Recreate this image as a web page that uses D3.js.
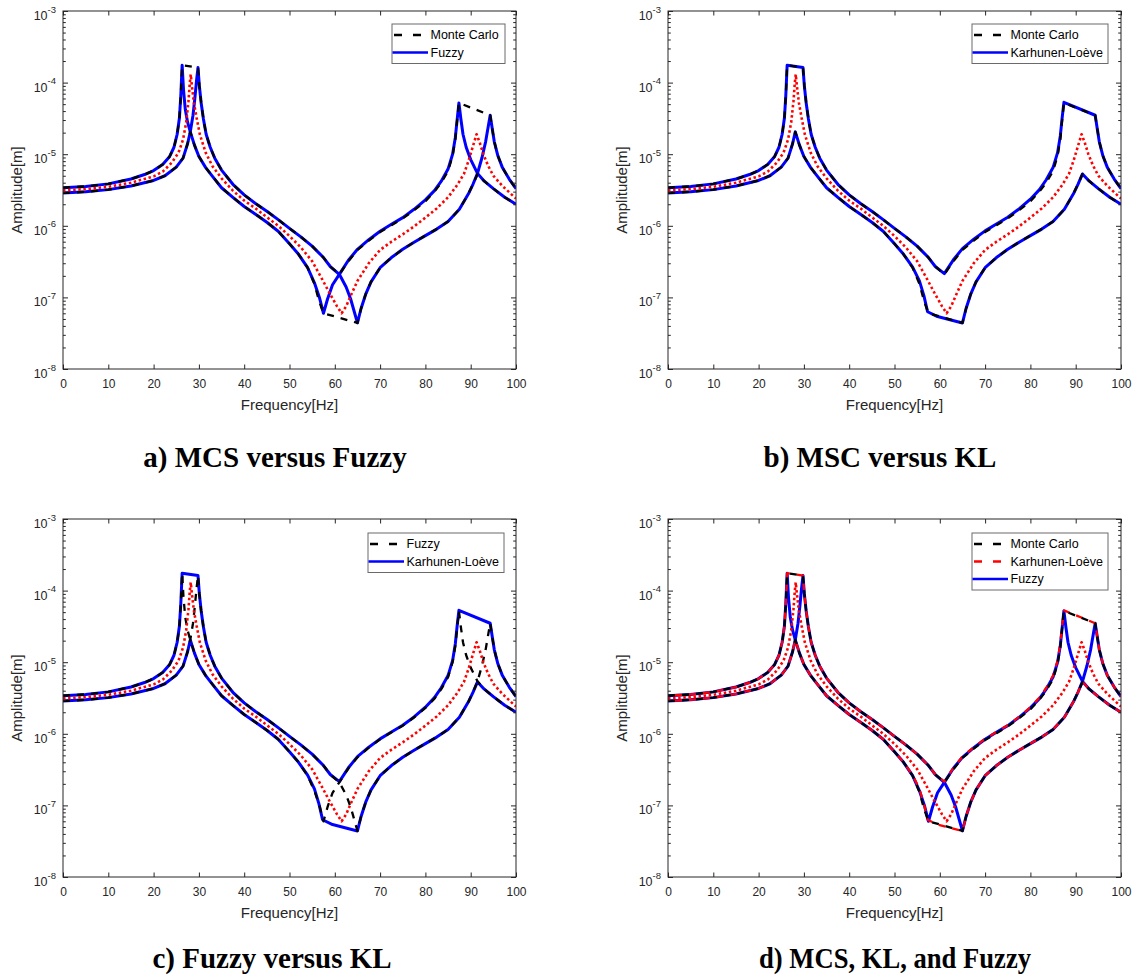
<!DOCTYPE html>
<html><head><meta charset="utf-8">
<script src="https://cdn.jsdelivr.net/npm/d3@7"></script>
<style>body{margin:0;background:#fff}svg{display:block}</style>
</head><body>
<svg id="chart" width="1141" height="977"></svg>
<script>
// ---------------- DATA ----------------
const freqTicks = [0,10,20,30,40,50,60,70,80,90,100];
const ampExponents = [-8,-7,-6,-5,-4,-3];
const ampTicks = ampExponents.map(e => Math.pow(10, e));

// Fuzzy bound FRF with softer parameters (peaks ~26.3 Hz and ~87.4 Hz)  [freq Hz, amplitude m]
const fuzzySoft = [[0,3.41e-6],[5,3.55e-6],[10,3.85e-6],[15,4.5e-6],[18,5.2e-6],[20,5.9e-6],[22,7.2e-6],[23.5,9.2e-6],[24.5,1.25e-5],[25.2,1.9e-5],[25.7,3.2e-5],[26.0,6.5e-5],[26.3,1.75e-4],[26.6,8e-5],[27.0,4.2e-5],[27.5,2.8e-5],[28.1,2.05e-5],[29,1.35e-5],[30,9.3e-6],[31.5,6.5e-6],[33,4.9e-6],[35,3.4e-6],[37.5,2.5e-6],[40,1.86e-6],[42.5,1.45e-6],[45,1.12e-6],[47.5,8.4e-7],[50,5.6e-7],[52,4.0e-7],[54,2.6e-7],[55.5,1.6e-7],[56.6,1.0e-7],[57.5,6e-8],[58.4,9.5e-8],[59.5,1.5e-7],[61,2.1e-7],[63,3.3e-7],[65,4.7e-7],[67.5,6.4e-7],[70,8.4e-7],[72.5,1.05e-6],[75,1.3e-6],[77.5,1.7e-6],[80,2.3e-6],[82,3.1e-6],[83.5,4.2e-6],[85,6.2e-6],[86,1e-5],[86.6,1.7e-5],[87.0,3e-5],[87.4,5.2e-5],[87.8,3.2e-5],[88.3,1.9e-5],[89,1.25e-5],[90,8.4e-6],[91.5,5.4e-6],[93,4.2e-6],[95,3.3e-6],[97.5,2.5e-6],[100,2.0e-6]];

// Fuzzy bound FRF with stiffer parameters (peaks ~29.8 Hz and ~94.3 Hz)
const fuzzyStiff = [[0,2.88e-6],[5,2.98e-6],[10,3.2e-6],[15,3.6e-6],[20,4.3e-6],[22.5,5e-6],[25,6.6e-6],[26.5,8.8e-6],[27.5,1.4e-5],[28.1,2.05e-5],[28.7,3.5e-5],[29.1,6e-5],[29.5,1.1e-4],[29.8,1.62e-4],[30.1,9e-5],[30.5,5.2e-5],[31,3.1e-5],[31.6,1.9e-5],[32.5,1.25e-5],[33.5,8.8e-6],[35,6e-6],[37.5,3.8e-6],[40,2.7e-6],[42.5,2.05e-6],[45,1.6e-6],[47.5,1.22e-6],[50,9.2e-7],[52.5,7e-7],[55,5.2e-7],[57.5,3.6e-7],[59,2.7e-7],[61,2.1e-7],[62.5,1.4e-7],[63.5,9.5e-8],[64.3,6.3e-8],[65,4.4e-8],[65.8,7e-8],[66.8,1.1e-7],[68,1.65e-7],[70,2.6e-7],[72.5,3.6e-7],[75,4.7e-7],[77.5,5.9e-7],[80,7.3e-7],[82.5,9e-7],[85,1.15e-6],[87.5,1.7e-6],[89.5,2.8e-6],[90.5,3.8e-6],[91.5,5.4e-6],[92.5,9e-6],[93.3,1.5e-5],[93.9,2.5e-5],[94.3,3.5e-5],[94.7,2.4e-5],[95.2,1.5e-5],[96,9.5e-6],[97,6.5e-6],[98.5,4.5e-6],[100,3.3e-6]];

// Mean (nominal) response, red dotted
const meanResponse = [[0,3.12e-6],[5,3.25e-6],[10,3.5e-6],[15,4e-6],[20,4.9e-6],[22,5.7e-6],[24,7.6e-6],[25.5,1.05e-5],[26.5,1.6e-5],[27.2,2.8e-5],[27.7,5.5e-5],[28.0,1.0e-4],[28.2,1.3e-4],[28.5,8.5e-5],[28.9,5.2e-5],[29.5,3.2e-5],[30.2,1.9e-5],[31.5,1.05e-5],[33,6.8e-6],[35,4.6e-6],[37.5,3.1e-6],[40,2.25e-6],[42.5,1.75e-6],[45,1.32e-6],[47.5,1e-6],[50,7.2e-7],[52.5,5e-7],[55,3.2e-7],[57,1.9e-7],[59,1.1e-7],[60.5,7.5e-8],[61.5,6e-8],[62.5,7.5e-8],[63.5,1.05e-7],[65,1.7e-7],[67.5,3e-7],[70,4.6e-7],[72.5,6e-7],[75,7.6e-7],[77.5,9.8e-7],[80,1.3e-6],[82.5,1.75e-6],[85,2.5e-6],[87,3.7e-6],[88.5,5.3e-6],[89.5,8e-6],[90.5,1.3e-5],[91.3,1.9e-5],[92,1.45e-5],[92.8,1e-5],[93.8,7e-6],[95,5e-6],[97,3.6e-6],[100,2.4e-6]];

// Monte Carlo envelope
const mcsUpper = [[0,3.41e-6],[5,3.55e-6],[10,3.85e-6],[15,4.5e-6],[18,5.2e-6],[20,5.9e-6],[22,7.2e-6],[23.5,9.2e-6],[24.5,1.25e-5],[25.2,1.9e-5],[25.7,3.2e-5],[26.0,6.5e-5],[26.3,1.75e-4],[29.8,1.62e-4],[30.1,9e-5],[30.5,5.2e-5],[31,3.1e-5],[31.6,1.9e-5],[32.5,1.25e-5],[33.5,8.8e-6],[35,6e-6],[37.5,3.8e-6],[40,2.7e-6],[42.5,2.05e-6],[45,1.6e-6],[47.5,1.22e-6],[50,9.2e-7],[52.5,7e-7],[55,5.2e-7],[57.5,3.6e-7],[59,2.7e-7],[61,2.1e-7],[63,3.2e-7],[65,4.6e-7],[67.5,6.2e-7],[70,8.2e-7],[72.5,1.02e-6],[75,1.27e-6],[77.5,1.65e-6],[80,2.2e-6],[82,3e-6],[83.5,4e-6],[85,5.8e-6],[86,9.5e-6],[86.6,1.6e-5],[87.0,3e-5],[87.4,5.2e-5],[94.3,3.5e-5],[94.7,2.4e-5],[95.2,1.5e-5],[96,9.5e-6],[97,6.5e-6],[98.5,4.5e-6],[100,3.3e-6]];
const mcsLower = [[0,2.88e-6],[5,2.98e-6],[10,3.2e-6],[15,3.6e-6],[20,4.3e-6],[22.5,5e-6],[25,6.6e-6],[26.5,8.8e-6],[27.5,1.4e-5],[28.1,2.05e-5],[29,1.35e-5],[30,9.3e-6],[31.5,6.5e-6],[33,4.9e-6],[35,3.4e-6],[37.5,2.5e-6],[40,1.86e-6],[42.5,1.45e-6],[45,1.12e-6],[47.5,8.4e-7],[50,5.6e-7],[52,4.0e-7],[54,2.6e-7],[55.5,1.55e-7],[56.5,9e-8],[57.5,6e-8],[61,5.2e-8],[65,4.4e-8],[65.8,7e-8],[66.8,1.1e-7],[68,1.65e-7],[70,2.6e-7],[72.5,3.6e-7],[75,4.7e-7],[77.5,5.9e-7],[80,7.3e-7],[82.5,9e-7],[85,1.15e-6],[87.5,1.7e-6],[89.5,2.8e-6],[90.5,3.8e-6],[91.5,5.3e-6],[93,4.2e-6],[95,3.3e-6],[97.5,2.5e-6],[100,2.0e-6]];

// Karhunen-Loeve envelope
const klUpper = [[0,3.41e-6],[5,3.55e-6],[10,3.85e-6],[15,4.5e-6],[18,5.2e-6],[20,5.9e-6],[22,7.2e-6],[23.5,9.2e-6],[24.5,1.25e-5],[25.2,1.9e-5],[25.7,3.2e-5],[26.0,6.5e-5],[26.3,1.75e-4],[29.8,1.62e-4],[30.1,9e-5],[30.5,5.2e-5],[31,3.1e-5],[31.6,1.9e-5],[32.5,1.25e-5],[33.5,8.8e-6],[35,6e-6],[37.5,3.8e-6],[40,2.7e-6],[42.5,2.05e-6],[45,1.6e-6],[47.5,1.22e-6],[50,9.2e-7],[52.5,7e-7],[55,5.2e-7],[57.5,3.6e-7],[59,2.7e-7],[61,2.15e-7],[63,3.35e-7],[65,4.8e-7],[67.5,6.5e-7],[70,8.5e-7],[72.5,1.06e-6],[75,1.32e-6],[77.5,1.72e-6],[80,2.35e-6],[82,3.2e-6],[83.5,4.4e-6],[85,6.5e-6],[86,1.05e-5],[86.6,1.8e-5],[87.0,3.2e-5],[87.4,5.3e-5],[94.3,3.5e-5],[94.7,2.4e-5],[95.2,1.5e-5],[96,9.5e-6],[97,6.5e-6],[98.5,4.5e-6],[100,3.3e-6]];
const klLower = [[0,2.88e-6],[5,2.98e-6],[10,3.2e-6],[15,3.6e-6],[20,4.3e-6],[22.5,5e-6],[25,6.6e-6],[26.5,8.8e-6],[27.5,1.4e-5],[28.1,2.05e-5],[29,1.35e-5],[30,9.3e-6],[31.5,6.5e-6],[33,4.9e-6],[35,3.4e-6],[37.5,2.5e-6],[40,1.86e-6],[42.5,1.45e-6],[45,1.12e-6],[47.5,8.4e-7],[50,5.6e-7],[52,4.0e-7],[54,2.65e-7],[55.5,1.7e-7],[56.5,1.05e-7],[57.3,6.3e-8],[59.5,5.4e-8],[65,4.4e-8],[65.8,7e-8],[66.8,1.1e-7],[68,1.65e-7],[70,2.6e-7],[72.5,3.6e-7],[75,4.7e-7],[77.5,5.9e-7],[80,7.3e-7],[82.5,9e-7],[85,1.15e-6],[87.5,1.7e-6],[89.5,2.8e-6],[90.5,3.8e-6],[91.5,5.3e-6],[93,4.2e-6],[95,3.3e-6],[97.5,2.5e-6],[100,2.0e-6]];

// ---------------- STYLES / LAYOUT ----------------
const STY = {
  blue:   {stroke:'#0000ff', width:3.0, dash:null},
  black:  {stroke:'#000000', width:2.3, dash:'7,7'},
  redDash:{stroke:'#ff0000', width:2.3, dash:'7,7', offset:7},
  dot:    {stroke:'#ff0000', width:2.6, dash:'2.5,2.6'}
};
const W = 453, H = 358;
const panels = [
  {left:63, top:11, caption:'a) MCS versus Fuzzy', capX:275, capY:467, capLen:null,
   layers:[[fuzzySoft,'blue'],[fuzzyStiff,'blue'],[mcsUpper,'black'],[mcsLower,'black'],[meanResponse,'dot']],
   legend:{x:392, y:24, w:113, rows:[['Monte Carlo','black'],['Fuzzy','blue']]}},
  {left:668, top:11, caption:'b) MSC versus KL', capX:880, capY:467, capLen:null,
   layers:[[klUpper,'blue'],[klLower,'blue'],[mcsUpper,'black'],[mcsLower,'black'],[meanResponse,'dot']],
   legend:{x:972, y:24, w:136, rows:[['Monte Carlo','black'],['Karhunen-Loève','blue']]}},
  {left:63, top:519, caption:'c) Fuzzy versus KL', capX:272, capY:968, capLen:null,
   layers:[[klUpper,'blue'],[klLower,'blue'],[fuzzySoft,'black'],[fuzzyStiff,'black'],[meanResponse,'dot']],
   legend:{x:368, y:533, w:136, rows:[['Fuzzy','black'],['Karhunen-Loève','blue']]}},
  {left:668, top:519, caption:'d) MCS, KL, and Fuzzy', capX:895, capY:968, capLen:272,
   layers:[[fuzzySoft,'blue'],[fuzzyStiff,'blue'],[klUpper,'redDash'],[klLower,'redDash'],[mcsUpper,'black'],[mcsLower,'black'],[meanResponse,'dot']],
   legend:{x:972, y:533, w:136, rows:[['Monte Carlo','black'],['Karhunen-Loève','redDash'],['Fuzzy','blue']]}}
];

const AX = '#262626';
const SANS = "'Liberation Sans', Arial, Helvetica, sans-serif";
const SERIF = "'Liberation Serif', 'Times New Roman', serif";

const svg = d3.select('#chart');
const x = d3.scaleLinear().domain([0,100]).range([0, W]);
const y = d3.scaleLog().domain([1e-8,1e-3]).range([H, 0]);
const minorTicks = ampTicks.slice(0,-1).flatMap(p => [2,3,4,5,6,7,8,9].map(m => m*p));
const line = d3.line().x(d => x(d[0])).y(d => y(d[1]));

function styleAxis(sel){
  sel.select('.domain').remove();
  sel.selectAll('.tick line').attr('stroke', AX).attr('stroke-width', 1);
  sel.selectAll('.tick text').attr('fill', AX).attr('font-family', SANS).attr('font-size', 12);
}

panels.forEach((p, i) => {
  const g = svg.append('g').attr('transform', `translate(${p.left},${p.top})`);
  g.append('rect').attr('width', W).attr('height', H).attr('fill', '#fff');

  const cid = 'clip' + i;
  g.append('clipPath').attr('id', cid).append('rect').attr('width', W).attr('height', H);
  const plot = g.append('g').attr('clip-path', `url(#${cid})`);
  p.layers.forEach(([data, key]) => {
    const s = STY[key];
    const path = plot.append('path').datum(data).attr('d', line)
      .attr('fill', 'none').attr('stroke', s.stroke).attr('stroke-width', s.width)
      .attr('stroke-linejoin', 'round');
    if (s.dash) path.attr('stroke-dasharray', s.dash);
    if (s.offset) path.attr('stroke-dashoffset', s.offset);
  });

  // axes (ticks inward)
  g.append('g').attr('transform', `translate(0,${H})`)
    .call(d3.axisBottom(x).tickValues(freqTicks).tickSizeInner(-4.5).tickSizeOuter(0).tickPadding(10.5).tickFormat(d3.format('d')))
    .call(styleAxis);
  g.append('g')
    .call(d3.axisTop(x).tickValues(freqTicks).tickSizeInner(-4.5).tickSizeOuter(0).tickFormat(''))
    .call(styleAxis);
  g.append('g')
    .call(d3.axisLeft(y).tickValues(ampTicks).tickSizeInner(-5).tickSizeOuter(0).tickFormat(''))
    .call(styleAxis);
  g.append('g')
    .call(d3.axisLeft(y).tickValues(minorTicks).tickSizeInner(-2.8).tickSizeOuter(0).tickFormat(''))
    .call(styleAxis);
  g.append('g').attr('transform', `translate(${W},0)`)
    .call(d3.axisRight(y).tickValues(ampTicks).tickSizeInner(-5).tickSizeOuter(0).tickFormat(''))
    .call(styleAxis);
  g.append('g').attr('transform', `translate(${W},0)`)
    .call(d3.axisRight(y).tickValues(minorTicks).tickSizeInner(-2.8).tickSizeOuter(0).tickFormat(''))
    .call(styleAxis);

  // y tick labels 10^e
  ampExponents.forEach((e, k) => {
    const t = g.append('text').attr('x', -7).attr('y', y(ampTicks[k]) + 9)
      .attr('text-anchor', 'end').attr('fill', AX).attr('font-family', SANS).attr('font-size', 12.5);
    t.append('tspan').text('10');
    t.append('tspan').attr('dy', -7.5).attr('font-size', 9.5).text(String(e));
  });

  g.append('rect').attr('width', W).attr('height', H)
    .attr('fill', 'none').attr('stroke', AX).attr('stroke-width', 1);

  // axis labels
  g.append('text').attr('x', W/2).attr('y', H + 41).attr('text-anchor', 'middle')
    .attr('fill', AX).attr('font-family', SANS).attr('font-size', 15).text('Frequency[Hz]');
  g.append('text').attr('transform', `translate(${-41},${H/2}) rotate(-90)`).attr('text-anchor', 'middle')
    .attr('fill', AX).attr('font-family', SANS).attr('font-size', 15).text('Amplitude[m]');

  // legend
  const L = p.legend, rowH = 17.5, bh = 14 + rowH * (L.rows.length - 1) + 7.5;
  const lg = svg.append('g').attr('transform', `translate(${L.x},${L.y})`);
  lg.append('rect').attr('width', L.w).attr('height', bh + 0.5)
    .attr('fill', '#fff').attr('stroke', '#6a6a6a').attr('stroke-width', 1);
  L.rows.forEach(([label, key], r) => {
    const s = STY[key], yy = 11 + r * rowH;
    const ln = lg.append('line').attr('y1', yy).attr('y2', yy)
      .attr('stroke', s.stroke).attr('stroke-width', 2.6);
    if (s.dash) { ln.attr('x1', 2).attr('x2', 30).attr('stroke-dasharray', '8,11'); }
    else { ln.attr('x1', 0.5).attr('x2', 36); }
    lg.append('text').attr('x', 38.5).attr('y', yy).attr('dy', '0.35em')
      .attr('fill', '#000').attr('font-family', SANS).attr('font-size', 12.5).text(label);
  });

  // caption
  const cap = svg.append('text').attr('x', p.capX).attr('y', p.capY).attr('text-anchor', 'middle')
    .attr('font-family', SERIF).attr('font-weight', 'bold').attr('font-size', 29)
    .attr('fill', '#000').text(p.caption);
  if (p.capLen) cap.attr('textLength', p.capLen).attr('lengthAdjust', 'spacingAndGlyphs');
});
</script>
</body></html>
